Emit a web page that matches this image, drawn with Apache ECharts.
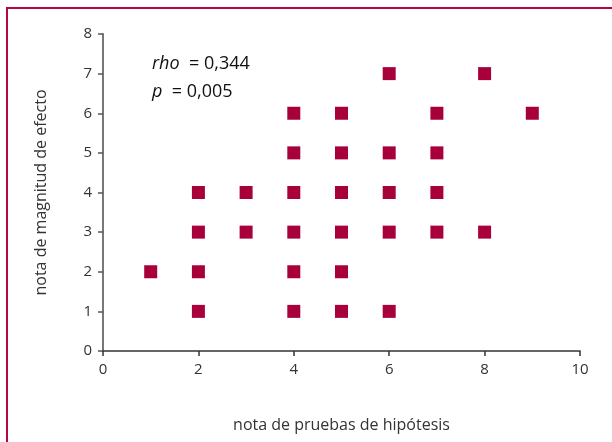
<!DOCTYPE html>
<html><head><meta charset="utf-8">
<script src="https://cdn.jsdelivr.net/npm/echarts@6/dist/echarts.min.js"></script>
<style>html,body{margin:0;padding:0;background:#fff}#c{width:612px;height:442px}</style>
</head><body><div id="c"></div>
<script>
const pruebas = [1,2,2,2,2,3,3,4,4,4,4,4,4,5,5,5,5,5,5,6,6,6,6,6,7,7,7,7,8,8,9];
const magnitud = [2,1,2,3,4,3,4,1,2,3,4,5,6,1,2,3,4,5,6,1,3,4,5,7,3,4,5,6,3,7,6];
const xTicks = [0,2,4,6,8,10];
const yTicks = [0,1,2,3,4,5,6,7,8];
const statsText = ['rho','= 0,344','p','= 0,005'];

const data = pruebas.map((x,i)=>[x, magnitud[i]]);
const font = '"Open Sans", "Noto Sans", sans-serif';
const chart = echarts.init(document.getElementById('c'));
chart.setOption({
  animation:false,
  grid:{left:103,right:32,top:34,bottom:91},
  xAxis:{type:'value',min:0,max:10,interval:2,
    name:'nota de pruebas de hipótesis',nameLocation:'middle',nameGap:66,
    nameTextStyle:{fontFamily:font,fontSize:16,color:'#333'},
    axisLine:{lineStyle:{color:'#333',width:1.5}},
    axisTick:{show:true,length:5,lineStyle:{color:'#333',width:1.5}},
    axisLabel:{fontFamily:font,fontSize:15,color:'#333',margin:11},
    splitLine:{show:false}},
  yAxis:{type:'value',min:0,max:8,interval:1,
    name:'nota de magnitud de efecto',nameLocation:'middle',nameGap:54,
    nameTextStyle:{fontFamily:font,fontSize:16,color:'#333'},
    axisLine:{show:true,lineStyle:{color:'#777',width:2}},
    axisTick:{show:true,length:5,lineStyle:{color:'#555',width:1.5}},
    axisLabel:{fontFamily:font,fontSize:15,color:'#333',margin:11},
    splitLine:{show:false}},
  series:[{type:'scatter',data:data,symbol:'rect',symbolSize:13,
    itemStyle:{color:'#a8003a',opacity:1}}],
  graphic:[
    {type:'line',shape:{x1:6,y1:8,x2:612,y2:8},style:{stroke:'#b00a3c',lineWidth:2}},
    {type:'line',shape:{x1:7,y1:7,x2:7,y2:442},style:{stroke:'#b00a3c',lineWidth:2}},
    {type:'text',left:152,top:55,style:{text:'{i|'+statsText[0]+'}  '+statsText[1],
      rich:{i:{fontStyle:'italic',fontFamily:font,fontSize:18,fill:'#111'}},
      font:'18px '+font,fill:'#111'}},
    {type:'text',left:152,top:83,style:{text:'{i|'+statsText[2]+'}  '+statsText[3],
      rich:{i:{fontStyle:'italic',fontFamily:font,fontSize:18,fill:'#111'}},
      font:'18px '+font,fill:'#111'}}
  ]
});
</script></body></html>
